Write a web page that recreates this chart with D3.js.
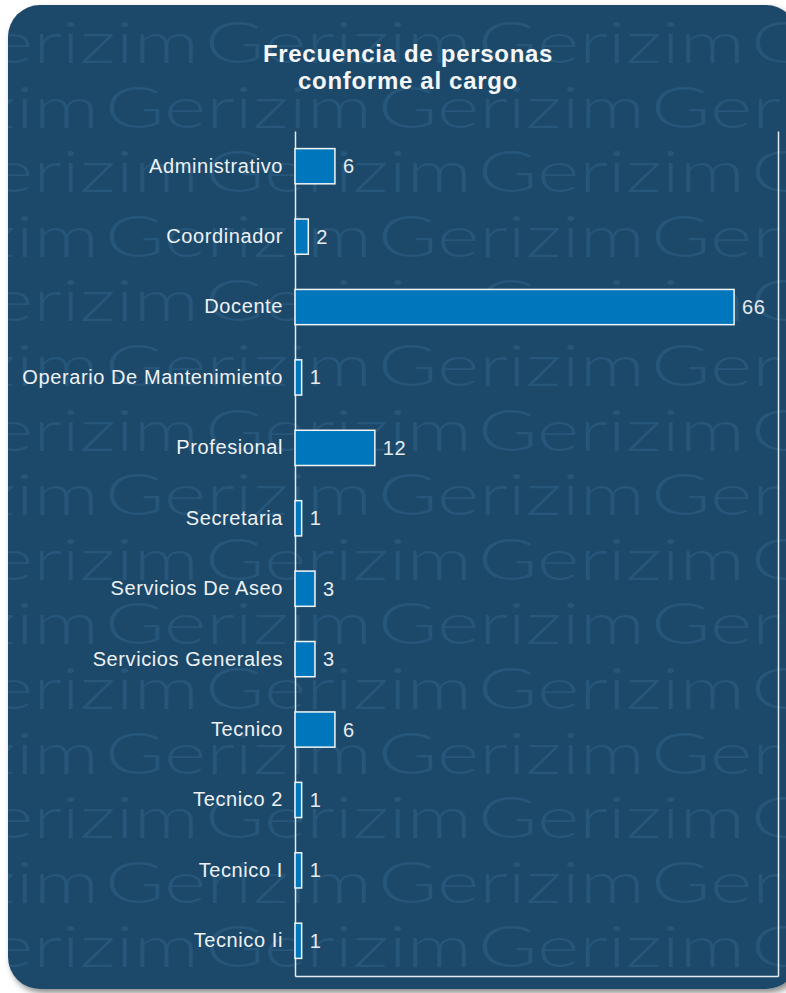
<!DOCTYPE html>
<html lang="es">
  <head>
    <meta charset="utf-8">
    <title>Frecuencia de personas conforme al cargo</title>
    <script src="https://cdn.jsdelivr.net/npm/d3@7"></script>
    <style>
html, body {
  margin: 0;
  padding: 0;
  background: #fff;
}
svg {
  display: block;
  font-family: "Liberation Sans", Arial, sans-serif;
}
.axis path {
  stroke: #e4eaef;
  stroke-width: 1.5px;
}
.axis text {
  font-size: 20px;
  letter-spacing: 0.6px;
  fill: #eef1f4;
}
.valor {
  font-size: 20px;
  letter-spacing: 0.6px;
  fill: #e6ebef;
}
    </style>
  </head>
  <body>
    <div id="chart"></div>
    <script>

// datos
var cargos = ["Administrativo", "Coordinador", "Docente", "Operario De Mantenimiento",
  "Profesional", "Secretaria", "Servicios De Aseo", "Servicios Generales",
  "Tecnico", "Tecnico 2", "Tecnico I", "Tecnico Ii"];
var frecuencias = [6, 2, 66, 1, 12, 1, 3, 3, 6, 1, 1, 1];
var titulo = ["Frecuencia de personas", "conforme al cargo"];
var marcaAgua = "Gerizim";

var width = 786, height = 993;
var margin = {top: 131, right: 8, bottom: 17, left: 295};

var svg = d3.select("#chart").append("svg")
    .attr("width", width)
    .attr("height", height);

var defs = svg.append("defs");

var sombra = defs.append("filter").attr("id", "sombra")
    .attr("x", "-10%").attr("y", "-10%").attr("width", "120%").attr("height", "120%");
sombra.append("feDropShadow")
    .attr("dx", 3).attr("dy", 4).attr("stdDeviation", 3)
    .attr("flood-color", "#000").attr("flood-opacity", 0.45);

defs.append("clipPath").attr("id", "tarjeta")
  .append("rect")
    .attr("x", 8).attr("y", 5)
    .attr("width", 790).attr("height", 984)
    .attr("rx", 32);

// tarjeta de fondo
svg.append("rect")
    .attr("x", 8).attr("y", 5)
    .attr("width", 790).attr("height", 984)
    .attr("rx", 32)
    .attr("fill", "#1f4a6b")
    .attr("filter", "url(#sombra)");

// marca de agua repetida
var agua = svg.append("g").attr("clip-path", "url(#tarjeta)");
var filas = d3.range(16);
var paso = 273;
filas.forEach(function(f) {
  var base = 63 + f * 64.6;
  var inicio = (f % 2 === 0 ? 205 : 105) - paso;
  d3.range(4).forEach(function(k) {
    agua.append("text")
        .attr("x", inicio + k * paso)
        .attr("y", base)
        .attr("textLength", paso - 6)
        .attr("lengthAdjust", "spacingAndGlyphs")
        .style("font-family", "Lato, 'DejaVu Sans', sans-serif")
        .style("font-weight", 300)
        .style("font-size", "58px")
        .style("fill", "#27567b")
        .text(marcaAgua);
  });
});

// escalas
var x = d3.scaleLinear()
    .domain([0, d3.max(frecuencias) * 1.1])
    .range([margin.left, width - margin.right]);

var y = d3.scaleBand()
    .domain(cargos)
    .range([margin.top, height - margin.bottom])
    .paddingInner(0.5)
    .paddingOuter(0.25);

// titulo
svg.append("text")
    .attr("x", 408)
    .attr("y", 62)
    .attr("text-anchor", "middle")
    .style("font-size", "24px")
    .style("font-weight", "bold")
    .style("letter-spacing", "0.7px")
    .style("fill", "#f4f6f8")
  .selectAll("tspan")
    .data(titulo)
  .enter().append("tspan")
    .attr("x", 408)
    .attr("dy", function(d, i) { return i === 0 ? 0 : 27; })
    .text(function(d) { return d; });

// marco con los ejes
svg.append("g")
    .attr("class", "axis")
    .attr("transform", "translate(" + margin.left + ",0)")
    .call(d3.axisLeft(y).tickSize(0).tickPadding(12));

svg.append("g")
    .attr("class", "axis")
    .attr("transform", "translate(" + (width - margin.right) + ",0)")
    .call(d3.axisRight(y).tickSize(0).tickFormat(""));

svg.append("g")
    .attr("class", "axis")
    .attr("transform", "translate(0," + (height - margin.bottom) + ")")
    .call(d3.axisBottom(x).tickSize(0).tickValues([]));

svg.selectAll(".axis .domain").attr("stroke", "#e4eaef");

// barras
var datos = cargos.map(function(c, i) { return {cargo: c, valor: frecuencias[i]}; });

svg.selectAll(".barra")
    .data(datos)
  .enter().append("rect")
    .attr("class", "barra")
    .attr("x", x(0))
    .attr("y", function(d) { return y(d.cargo); })
    .attr("width", function(d) { return x(d.valor) - x(0); })
    .attr("height", y.bandwidth())
    .attr("fill", "#0077bd")
    .attr("stroke", "#f2f5f7")
    .attr("stroke-width", 1.5);

svg.selectAll(".valor")
    .data(datos)
  .enter().append("text")
    .attr("class", "valor")
    .attr("x", function(d) { return x(d.valor) + 8; })
    .attr("y", function(d) { return y(d.cargo) + y.bandwidth() / 2; })
    .attr("dy", "0.35em")
    .text(function(d) { return d.valor; });

    </script>
  </body>
</html>
